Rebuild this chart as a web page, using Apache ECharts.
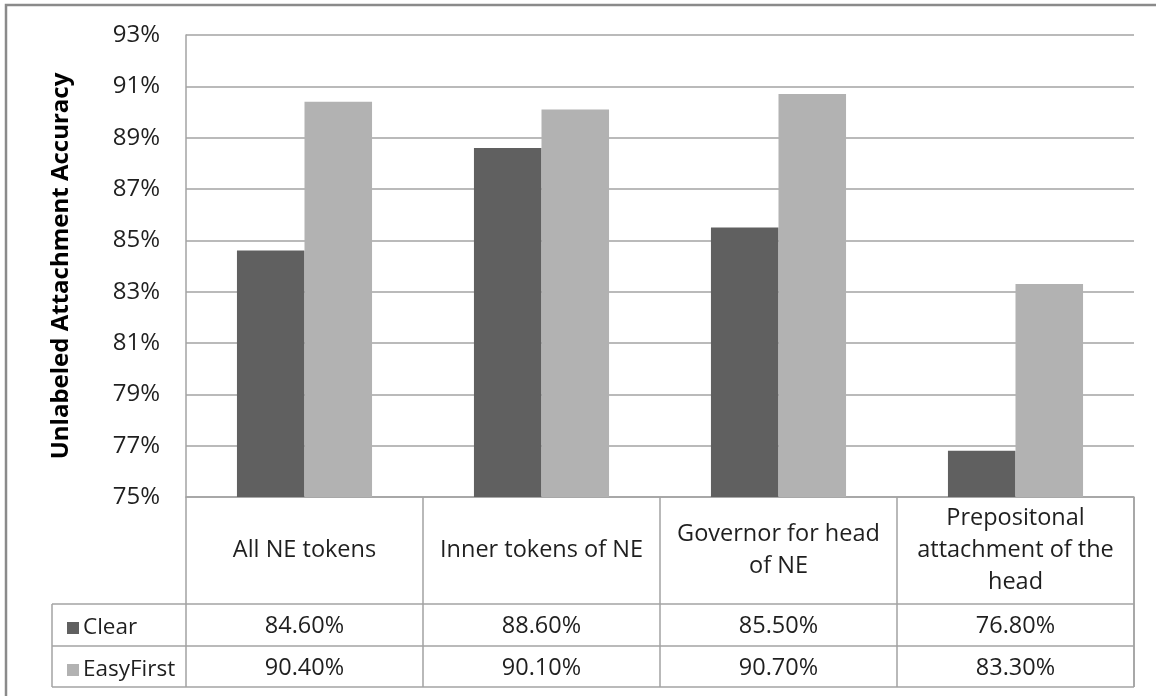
<!DOCTYPE html>
<html>
<head>
<meta charset="utf-8">
<script src="https://cdn.jsdelivr.net/npm/echarts@6/dist/echarts.min.js"></script>
<style>
html,body{margin:0;padding:0;background:#fff;}
#c{width:1156px;height:696px;}
</style>
</head>
<body>
<div id="c"></div>
<script>
var categories = ['All NE tokens', 'Inner tokens of NE', 'Governor for head\nof NE', 'Prepositonal\nattachment of the\nhead'];
var seriesNames = ['Clear', 'EasyFirst'];
var clearValues = [84.6, 88.6, 85.5, 76.8];
var easyFirstValues = [90.4, 90.1, 90.7, 83.3];
var yTicks = [75, 77, 79, 81, 83, 85, 87, 89, 91, 93];

var FONT = '"Open Sans", "Noto Sans", sans-serif';
var TXT = '#1f1f1f';
var LINE = '#a3a3a3';
var FS = 23.5;

var chart = echarts.init(document.getElementById('c'), null, {renderer: 'canvas'});

function fmt(v) { return v.toFixed(2) + '%'; }

var option = {
  animation: false,
  backgroundColor: '#fff',
  textStyle: {fontFamily: FONT},
  grid: {left: 186, right: 22, top: 35, bottom: 199, containLabel: false},
  legend: {
    orient: 'vertical',
    left: 62,
    top: 611,
    itemWidth: 12,
    itemHeight: 12,
    itemGap: 18,
    icon: 'rect',
    selectedMode: false,
    textStyle: {fontFamily: FONT, fontSize: 22.5, color: TXT, lineHeight: 24, padding: [0, 0, 0, -1]},
    data: seriesNames
  },
  xAxis: [
    {
      type: 'category',
      data: categories,
      axisLine: {show: true, lineStyle: {color: LINE, width: 1.5}},
      axisTick: {show: true, length: 190, lineStyle: {color: LINE, width: 1.5}},
      axisLabel: {
        margin: 53, verticalAlign: 'middle', fontFamily: FONT, fontSize: FS,
        color: TXT, lineHeight: 32, align: 'center', interval: 0
      }
    },
    {
      type: 'category',
      position: 'bottom',
      data: clearValues.map(fmt),
      axisLine: {show: false}, axisTick: {show: false},
      axisLabel: {margin: 129, verticalAlign: 'middle', fontFamily: FONT, fontSize: FS, color: TXT, interval: 0}
    },
    {
      type: 'category',
      position: 'bottom',
      data: easyFirstValues.map(fmt),
      axisLine: {show: false}, axisTick: {show: false},
      axisLabel: {margin: 171, verticalAlign: 'middle', fontFamily: FONT, fontSize: FS, color: TXT, interval: 0}
    }
  ],
  yAxis: {
    type: 'value',
    min: yTicks[0],
    max: yTicks[yTicks.length - 1],
    interval: 2,
    name: 'Unlabeled Attachment Accuracy',
    nameLocation: 'middle',
    nameGap: 113,
    nameTextStyle: {fontFamily: FONT, fontSize: 24, fontWeight: 'bold', color: '#000'},
    axisLine: {show: true, lineStyle: {color: LINE, width: 1.5}},
    axisTick: {show: false},
    splitLine: {show: true, lineStyle: {color: LINE, width: 1.5}},
    axisLabel: {
      margin: 26, fontFamily: FONT, fontSize: 24, color: TXT,
      formatter: function (v) { return v + '%'; }
    }
  },
  series: [
    {
      name: seriesNames[0], type: 'bar', data: clearValues,
      barGap: '0%', barCategoryGap: '43%',
      itemStyle: {color: '#606060'}
    },
    {
      name: seriesNames[1], type: 'bar', data: easyFirstValues,
      barGap: '0%', barCategoryGap: '43%',
      itemStyle: {color: '#b2b2b2'}
    }
  ]
};

chart.setOption(option);

// table frame lines derived from the chart's own scales
var yBase = chart.convertToPixel({yAxisIndex: 0}, yTicks[0]);
var c0 = chart.convertToPixel({xAxisIndex: 0}, categories[0]);
var c1 = chart.convertToPixel({xAxisIndex: 0}, categories[1]);
var band = c1 - c0;
var xLeft = c0 - band / 2;
var xRight = xLeft + band * categories.length;
var labelLeft = 52;
var row1 = yBase + 107, row2 = yBase + 149, row3 = yBase + 190;

function hline(x1, x2, y) {
  return {type: 'line', shape: {x1: x1, y1: y, x2: x2, y2: y}, style: {stroke: LINE, lineWidth: 1.5}, silent: true};
}
function vline(x, y1, y2) {
  return {type: 'line', shape: {x1: x, y1: y1, x2: x, y2: y2}, style: {stroke: LINE, lineWidth: 1.5}, silent: true};
}

chart.setOption({
  graphic: [
    {type: 'rect', shape: {x: 6, y: 5, width: 1300, height: 900}, style: {fill: 'none', stroke: '#8a8a8a', lineWidth: 2.5}, silent: true},
    hline(labelLeft, xRight, row1),
    hline(labelLeft, xRight, row2),
    hline(labelLeft, xRight, row3),
    vline(labelLeft, row1, row3),
    vline(xRight, yBase, row3)
  ]
});
</script>
</body>
</html>
